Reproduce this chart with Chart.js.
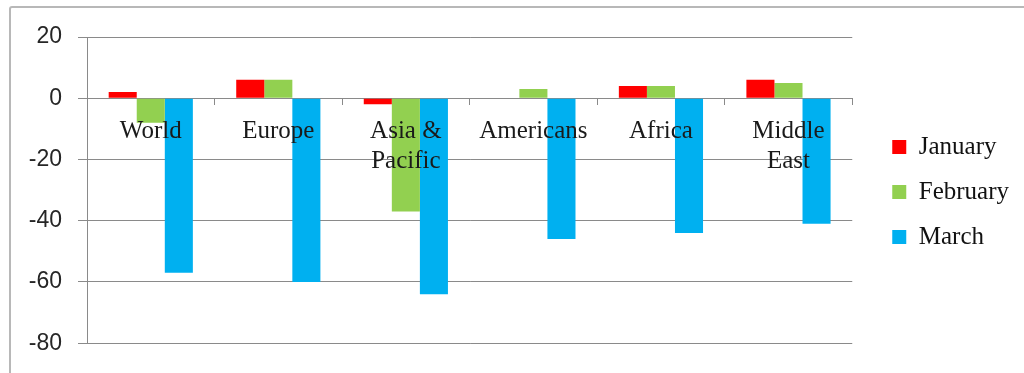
<!DOCTYPE html>
<html>
<head>
<meta charset="utf-8">
<script src="https://cdn.jsdelivr.net/npm/chart.js@4"></script>
<style>
  html, body { margin: 0; padding: 0; background: #fff; overflow: hidden; }
  #wrap { position: relative; width: 1024px; height: 373px; }
  #frame {
    position: absolute; left: 9px; top: 6px; width: 1040px; height: 400px;
    border: 2px solid #b8b8b8; border-radius: 3px; box-sizing: border-box;
  }
  #grafico { position: absolute; left: 0; top: 0; }
</style>
</head>
<body>
<div id="wrap">
  <div id="frame"></div>
  <canvas id="grafico" width="1024" height="373"></canvas>
</div>
<script>
// datos
const regiones = ['World', 'Europe', ['Asia &', 'Pacific'], 'Americans', 'Africa', ['Middle', 'East']];
const enero = [2, 6, -2, 0, 4, 6];
const febrero = [-8, 6, -37, 3, 4, 5];
const marzo = [-57, -60, -64, -46, -44, -41];
const marcasY = [20, 0, -20, -40, -60, -80];

const colorGrid = '#8a8a8a';
const fuenteSerif = '"Liberation Serif", "Times New Roman", serif';

const ctx = document.getElementById('grafico').getContext('2d');
new Chart(ctx, {
    type: 'bar',
    data: {
        labels: regiones,
        datasets: [
            { label: 'January', data: enero, backgroundColor: '#ff0000' },
            { label: 'February', data: febrero, backgroundColor: '#92d050' },
            { label: 'March', data: marzo, backgroundColor: '#00b0f0' }
        ]
    },
    options: {
        responsive: false,
        animation: false,
        layout: { padding: { left: 0, top: 37, bottom: 26, right: 5 } },
        datasets: { bar: { barPercentage: 1, categoryPercentage: 0.66 } },
        plugins: {
            tooltip: { enabled: false },
            legend: {
                position: 'right',
                labels: {
                    boxWidth: 14,
                    boxHeight: 14,
                    padding: 20,
                    color: '#111',
                    font: { family: fuenteSerif, size: 25 }
                }
            }
        },
        scales: {
            x: {
                position: { y: 0 },
                grid: {
                    offset: true,
                    drawOnChartArea: false,
                    tickLength: 6,
                    color: colorGrid
                },
                border: { color: colorGrid, width: 1 },
                ticks: {
                    z: 1, // etiquetas encima de las barras
                    padding: 12,
                    color: '#1a1a1a',
                    maxRotation: 0,
                    autoSkip: false,
                    font: { family: fuenteSerif, size: 25, lineHeight: 1.2 }
                }
            },
            y: {
                min: -80,
                max: 20,
                afterFit: function(scale) { scale.width = 87; },
                afterBuildTicks: function(scale) {
                    scale.ticks = marcasY.map(v => ({ value: v }));
                },
                grid: { color: colorGrid, tickLength: 9 },
                border: { color: colorGrid, width: 1 },
                ticks: {
                    padding: 16,
                    color: '#262626',
                    font: { family: '"Liberation Sans", Arial, sans-serif', size: 23 }
                }
            },
            // eje vacio, solo deja hueco entre el grafico y la leyenda
            hueco: {
                axis: 'y',
                position: 'right',
                grid: { display: false },
                border: { display: false },
                ticks: { display: false },
                afterFit: function(scale) { scale.width = 20; }
            }
        }
    }
});
</script>
</body>
</html>
